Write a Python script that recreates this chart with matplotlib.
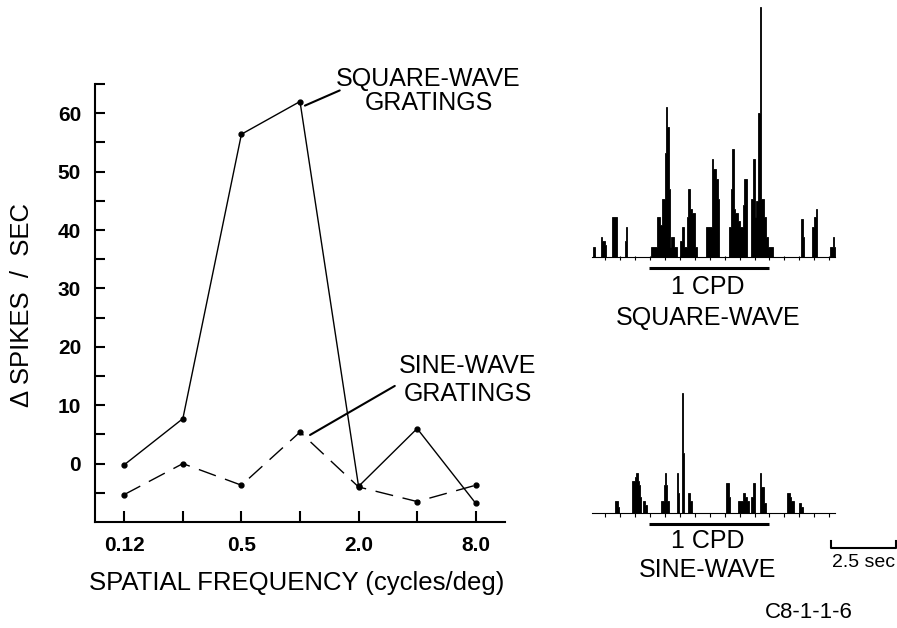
import numpy as np
import matplotlib
matplotlib.use("Agg")
import matplotlib.pyplot as plt
from matplotlib.ticker import NullLocator

plt.rcParams['font.family'] = ['Liberation Sans', 'DejaVu Sans']

# tuning curve (spatial frequency, cycles/deg)
freqs = [0.125, 0.25, 0.5, 1.0, 2.0, 4.0, 8.0]
square_resp = [-0.2, 7.7, 56.4, 62.0, -3.9, 6.0, -6.8]
sine_resp = [-5.3, 0.0, -3.7, 5.4, -4.0, -6.5, -3.7]
xtick_labels = ['0.12', '', '0.5', '', '2.0', '', '8.0']

# PSTH at 1 CPD, 0.05 s bins (bin index -> height)
bin_w = 0.05
n_bins = 187
sq_bins = [1, 7, 8, 9, 10, 15, 16, 17, 18, 25, 26,
           45, 46, 47, 48, 49, 50, 51, 52, 53, 54, 55, 56, 57, 58, 59, 60, 61, 62, 63, 64,
           68, 69, 70, 71, 72, 73, 74, 75, 76, 77, 78, 79, 80,
           88, 89, 90, 91, 92, 93, 94, 95, 96, 97,
           105, 106, 107, 108, 109, 110, 111, 112, 113, 114, 115, 116, 117, 118,
           122, 123, 124, 125, 126, 127, 128, 129, 130, 131, 132, 133, 134, 135, 136, 137, 138,
           161, 162, 169, 170, 171, 172, 183, 184, 185, 186]
sq_counts = [5, 10, 8, 8, 6, 20, 20, 20, 20, 8, 15,
             5, 5, 5, 5, 5, 20, 20, 16, 16, 29, 29, 52, 75, 65, 34, 5, 10, 10, 5, 5,
             8, 15, 15, 5, 5, 20, 34, 24, 24, 22, 22, 5, 5,
             15, 15, 15, 15, 49, 44, 44, 39, 39, 29,
             15, 15, 34, 54, 24, 22, 22, 18, 18, 15, 15, 26, 39, 39,
             29, 29, 49, 20, 28, 28, 72, 125, 29, 29, 20, 20, 10, 5, 5, 5, 5,
             19, 10, 15, 15, 20, 24, 5, 5, 10, 5]
sn_bins = [18, 19, 20, 31, 32, 33, 34, 35, 36, 37, 39, 40, 41,
           53, 54, 55, 56, 57, 58, 65, 66, 69, 70, 74, 75, 76,
           103, 104, 105, 112, 113, 114, 115, 116, 117, 118, 119, 120,
           122, 123, 124, 129, 130, 131, 132, 133,
           150, 151, 152, 153, 154, 159, 160, 161]
sn_counts = [6, 6, 3, 16, 16, 18, 20, 16, 14, 8, 6, 6, 4,
             6, 6, 14, 20, 14, 6, 20, 10, 60, 30, 10, 6, 6,
             15, 15, 8, 6, 6, 6, 6, 10, 10, 8, 6, 6,
             8, 8, 15, 20, 13, 13, 5, 5,
             10, 10, 8, 6, 6, 5, 5, 3]
stim_on, stim_off = 2.2, 6.8
tick_t = np.arange(0.5, 9.4, 0.575)
scale_len = 2.5

fig = plt.figure(figsize=(8.97, 6.28), dpi=100)

# ---- tuning curve ----
ax = fig.add_axes([95/897, 106/628, 410/897, 438/628])
ax.plot(freqs, square_resp, '-', color='black', lw=1.0, marker='o', ms=3.5)
ax.plot(freqs, sine_resp, color='black', lw=1.0, marker='o', ms=3.5, dashes=(13, 7))
ax.set_xscale('log', base=2)
ax.set_xlim(0.125 * 2 ** -0.5, 8 * 2 ** 0.5)
ax.set_ylim(-10, 65)
ax.set_xticks(freqs)
ax.set_xticklabels(xtick_labels)
ax.xaxis.set_minor_locator(NullLocator())
yt = np.arange(-5, 66, 5)
ax.set_yticks(yt)
ax.set_yticklabels([str(v) if v % 10 == 0 and v >= 0 else '' for v in yt])
for s in ['top', 'right']:
    ax.spines[s].set_visible(False)
for s in ['left', 'bottom']:
    ax.spines[s].set_linewidth(1.5)
ax.tick_params(axis='y', direction='in', length=7.5, width=1.5, pad=10)
ax.tick_params(axis='x', direction='in', length=8, width=1.5, pad=10)
for lab in ax.get_xticklabels() + ax.get_yticklabels():
    lab.set_fontsize(15)
    lab.set_fontweight('bold')

ax.annotate('', xy=(1.06, 61.3), xytext=(1.60, 63.9), annotation_clip=False,
            arrowprops=dict(arrowstyle='-', lw=1.5, shrinkA=0, shrinkB=0))
ax.text(4.53, 65.8, 'SQUARE-WAVE', ha='center', va='center', fontsize=18, clip_on=False)
ax.text(4.6, 61.7, 'GRATINGS', ha='center', va='center', fontsize=18, clip_on=False)
ax.annotate('', xy=(1.126, 4.9), xytext=(3.07, 13.3), annotation_clip=False,
            arrowprops=dict(arrowstyle='-', lw=1.5, shrinkA=0, shrinkB=0))
ax.text(7.29, 16.7, 'SINE-WAVE', ha='center', va='center', fontsize=18)
ax.text(7.29, 11.9, 'GRATINGS', ha='center', va='center', fontsize=18)

fig.text(297/897, 1 - 583/628, 'SPATIAL FREQUENCY (cycles/deg)', ha='center', va='center',
         fontsize=18.5)
fig.text(22/897, 1 - 305/628, '\u0394 SPIKES  /  SEC', ha='center', va='center',
         rotation=90, fontsize=18.5)


# ---- PSTHs ----
def psth(axh, bins, counts, y_stim):
    rate = np.zeros(n_bins)
    rate[bins] = counts
    edges = np.arange(n_bins + 1) * bin_w
    axh.stairs(rate, edges, fill=True, facecolor='black', edgecolor='black', lw=0.6)
    axh.plot([0, n_bins * bin_w], [0, 0], color='black', lw=0.8)
    axh.plot(tick_t, np.full(len(tick_t), -0.8), '|', color='black', ms=2.5, mew=0.8)
    axh.plot([stim_on, stim_off], [y_stim, y_stim], color='black', lw=2.2,
             solid_capstyle='butt')
    axh.set_xlim(-12/26, 305/26)
    axh.axis('off')


ax_sq = fig.add_axes([580/897, 348/628, 317/897, 280/628])
psth(ax_sq, sq_bins, sq_counts, -5.8)
ax_sq.set_ylim(-(280 - 256.7)/2, 256.7/2)
ax_sq.text(4.45, -15, '1 CPD', ha='center', va='center', fontsize=18)
ax_sq.text(4.45, -30.5, 'SQUARE-WAVE', ha='center', va='center', fontsize=18)

ax_sn = fig.add_axes([580/897, 28/628, 317/897, 220/628])
psth(ax_sn, sn_bins, sn_counts, -5.5)
ax_sn.set_ylim(-(600 - 513.3)/2, (513.3 - 380)/2)
ax_sn.text(4.45, -14, '1 CPD', ha='center', va='center', fontsize=18)
ax_sn.text(4.45, -28.5, 'SINE-WAVE', ha='center', va='center', fontsize=18)

# 2.5 sec scale bar
sb0 = 9.18
ax_sn.plot([sb0, sb0, sb0 + scale_len, sb0 + scale_len], [-13.9, -17.4, -17.4, -13.9],
           color='black', lw=1.5, clip_on=False)
ax_sn.text(sb0 + scale_len / 2, -24.4, '2.5 sec', ha='center', va='center', fontsize=14)

fig.text(809/897, 1 - 612/628, 'C8-1-1-6', ha='center', va='center', fontsize=16)

fig.savefig('out.png', dpi=100)
